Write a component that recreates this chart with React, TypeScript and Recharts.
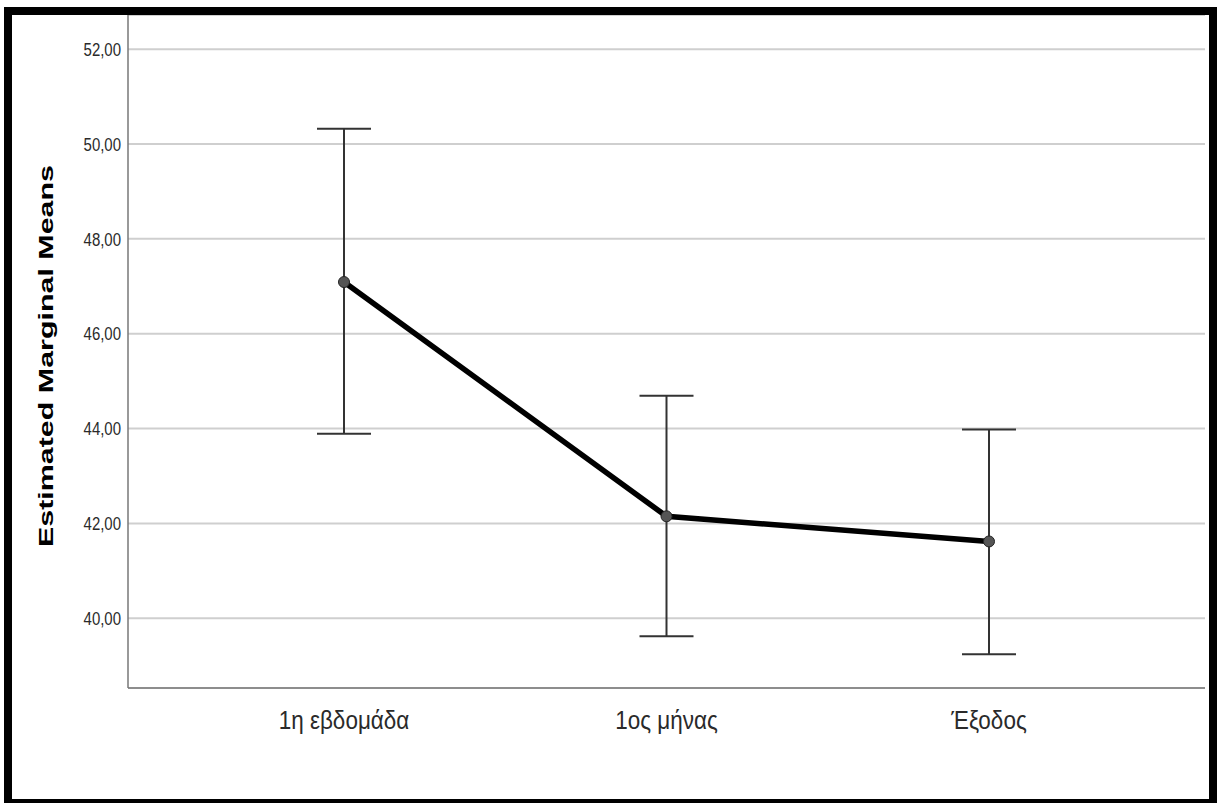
import {
  LineChart,
  Line,
  XAxis,
  YAxis,
  CartesianGrid,
  ErrorBar,
  Label,
} from "recharts";

const categories = ["1η εβδομάδα", "1ος μήνας", "Έξοδος"];
const means = [47.09, 42.15, 41.62];
const upperBounds = [50.32, 44.69, 43.98];
const lowerBounds = [43.89, 39.62, 39.24];
const yTicks = [40, 42, 44, 46, 48, 50, 52];

const data = categories.map((name, i) => ({
  name,
  mean: means[i],
  err: [means[i] - lowerBounds[i], upperBounds[i] - means[i]],
}));

const fmt = (v: number) => v.toFixed(2).replace(".", ",");

const FONT = "'Liberation Sans', Arial, sans-serif";

// the source picture is a bit stretched vertically, so the tick text is too
function XTick(props: any) {
  const { x, y, payload } = props;
  return (
    <g transform={`translate(${x},${y}) scale(1,1.12)`}>
      <text
        x={0}
        y={0}
        dy="0.71em"
        textAnchor="middle"
        fontFamily={FONT}
        fontSize={22.5}
        fill="#2a2a2a"
      >
        {payload.value}
      </text>
    </g>
  );
}

function YTick(props: any) {
  const { x, y, payload } = props;
  return (
    <g transform={`translate(${x},${y}) scale(0.88,1.1)`}>
      <text
        x={0}
        y={0}
        dy="0.355em"
        textAnchor="end"
        fontFamily={FONT}
        fontSize={17}
        fill="#2a2a2a"
      >
        {fmt(payload.value)}
      </text>
    </g>
  );
}

export default function App() {
  return (
    <div
      style={{
        position: "absolute",
        left: 0,
        top: 0,
        width: 1218,
        height: 803,
        overflow: "hidden",
        background: "#fff",
      }}
    >
      <LineChart
        width={1218}
        height={803}
        data={data}
        margin={{ top: 15, right: 13, bottom: 55, left: 48 }}
      >
        <CartesianGrid
          horizontal
          vertical={false}
          stroke="#cfcfcf"
          strokeWidth={2}
        />
        <XAxis
          dataKey="name"
          height={60}
          padding={{ left: 216, right: 216 }}
          axisLine={{ stroke: "#777", strokeWidth: 1.5 }}
          tickLine={false}
          tickSize={0}
          tickMargin={23}
          tick={<XTick />}
        />
        <YAxis
          width={80}
          domain={[38.53, 52.72]}
          ticks={yTicks}
          allowDataOverflow
          axisLine={{ stroke: "#777", strokeWidth: 1.5 }}
          tickLine={false}
          tickSize={0}
          tickMargin={7}
          tick={<YTick />}
        >
          <Label
            content={() => (
              <text
                x={46}
                y={356}
                transform="rotate(-90 46 356)"
                textAnchor="middle"
                dominantBaseline="central"
                fontFamily={FONT}
                fontWeight="bold"
                fontSize={19.5}
                textLength={382}
                lengthAdjust="spacingAndGlyphs"
                fill="#000"
              >
                Estimated Marginal Means
              </text>
            )}
          />
        </YAxis>
        <Line
          dataKey="mean"
          stroke="#000"
          strokeWidth={5.5}
          isAnimationActive={false}
          dot={{ r: 5.5, fill: "#555", stroke: "#222", strokeWidth: 1 }}
          activeDot={false}
        >
          <ErrorBar
            dataKey="err"
            direction="y"
            width={27}
            stroke="#333"
            strokeWidth={2}
            isAnimationActive={false}
          />
        </Line>
      </LineChart>
      <div
        style={{
          position: "absolute",
          left: 4,
          top: 7,
          width: 1213,
          height: 800,
          border: "8px solid #000",
          boxSizing: "border-box",
          pointerEvents: "none",
        }}
      />
    </div>
  );
}
